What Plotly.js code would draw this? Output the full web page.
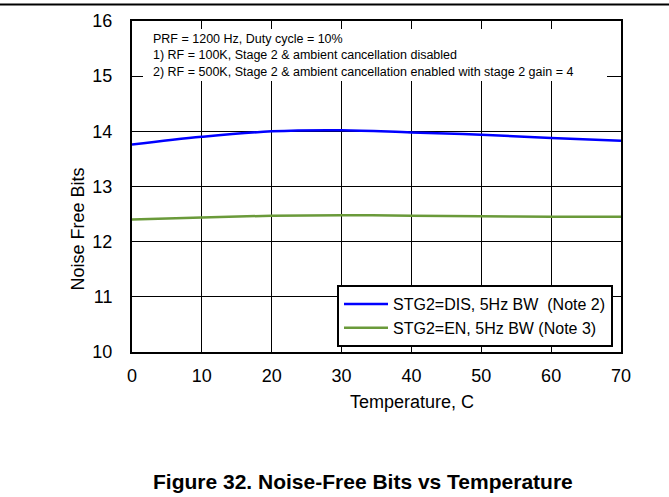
<!DOCTYPE html>
<html>
<head>
<meta charset="utf-8">
<script src="https://cdn.plot.ly/plotly-3.0.1.min.js"></script>
<style>
html,body{margin:0;padding:0;background:#fff;}
#chart{width:669px;height:497px;}
</style>
</head>
<body>
<div id="chart"></div>
<script>
var temperature = [0, 10, 20, 30, 40, 50, 60, 70];
var stg2Dis = [13.76, 13.90, 14.00, 14.02, 13.98, 13.94, 13.88, 13.83];
var stg2En = [12.40, 12.44, 12.47, 12.48, 12.47, 12.46, 12.45, 12.45];
var seriesNames = ["STG2=DIS, 5Hz BW  (Note 2)", "STG2=EN, 5Hz BW (Note 3)"];
var noteLines = [
  "PRF = 1200 Hz, Duty cycle = 10%",
  "1) RF = 100K, Stage 2 & ambient cancellation disabled",
  "2) RF = 500K, Stage 2 & ambient cancellation enabled with stage 2 gain = 4"
];
var xTicks = [0, 10, 20, 30, 40, 50, 60, 70];
var yTicks = [10, 11, 12, 13, 14, 15, 16];
var xTitle = "Temperature, C";
var yTitle = "Noise Free Bits";
var caption = "Figure 32. Noise-Free Bits vs Temperature";

var FONT = "Arial, 'Liberation Sans', sans-serif";
var W = 669, H = 497;
var L = 132, R = 48, T = 21, B = 145;
var pw = W - L - R, ph = H - T - B;
function px(x){ return (x - L) / pw; }
function py(y){ return (H - B - y) / ph; }

var traces = [
  {x: temperature, y: stg2Dis, name: seriesNames[0], mode: "lines", legendgroup: "a",
   line: {color: "#0000ff", width: 2.5, shape: "spline", smoothing: 1}},
  {x: temperature, y: stg2En, name: seriesNames[1], mode: "lines", legendgroup: "b",
   line: {color: "#6a9a3a", width: 2.5, shape: "spline", smoothing: 1}}
];

var annotations = [
  {text: noteLines.join("<br>"), xref: "paper", yref: "paper", x: px(151), y: py(55),
   xanchor: "left", yanchor: "middle", align: "left", showarrow: false,
   font: {family: FONT, size: 12.5, color: "#000"}},
  {text: "<b>" + caption + "</b>", xref: "paper", yref: "paper",
   x: px(363), y: py(481), xanchor: "center", yanchor: "middle", showarrow: false,
   font: {family: FONT, size: 21, color: "#000"}},
  {text: xTitle, xref: "paper", yref: "paper",
   x: px(412), y: py(402), xanchor: "center", yanchor: "middle", showarrow: false,
   font: {family: FONT, size: 18, color: "#000"}},
  {text: yTitle, xref: "paper", yref: "paper", textangle: -90,
   x: px(78), y: py(229.5), xanchor: "center", yanchor: "middle", showarrow: false,
   font: {family: FONT, size: 18, color: "#000"}}
];

var layout = {
  width: W, height: H,
  margin: {l: L, r: R, t: T, b: B, pad: 0},
  paper_bgcolor: "#fff", plot_bgcolor: "#fff",
  font: {family: FONT, color: "#000"},
  showlegend: true,
  legend: {x: px(337), y: py(285), xanchor: "left", yanchor: "top",
    bgcolor: "#fff", bordercolor: "#000", borderwidth: 2, itemwidth: 44,
    font: {family: FONT, size: 16, color: "#000"}, tracegroupgap: 8,
    traceorder: "normal"},
  xaxis: {range: [0, 70], tickvals: xTicks, ticktext: xTicks.map(String),
    showgrid: true, gridcolor: "#000", gridwidth: 1,
    showline: true, mirror: true, linecolor: "#000", linewidth: 2,
    ticks: "", zeroline: false, ticklabelstandoff: 6,
    tickfont: {family: FONT, size: 18, color: "#000"}},
  yaxis: {range: [10, 16], tickvals: yTicks, ticktext: yTicks.map(String),
    showgrid: true, gridcolor: "#000", gridwidth: 1,
    showline: true, mirror: true, linecolor: "#000", linewidth: 2,
    ticks: "", zeroline: false, ticklabelstandoff: 14,
    tickfont: {family: FONT, size: 18, color: "#000"}},
  shapes: [
    {type: "line", xref: "paper", yref: "paper", x0: px(0), x1: px(669), y0: py(4.5), y1: py(4.5),
     line: {color: "#000", width: 2}},
    {type: "rect", xref: "paper", yref: "paper", x0: px(143), x1: px(607), y0: py(81), y1: py(29),
     fillcolor: "#fff", line: {width: 0}, layer: "above"}
  ],
  annotations: annotations
};

Plotly.newPlot("chart", traces, layout, {staticPlot: true, displayModeBar: false});
</script>
</body>
</html>
